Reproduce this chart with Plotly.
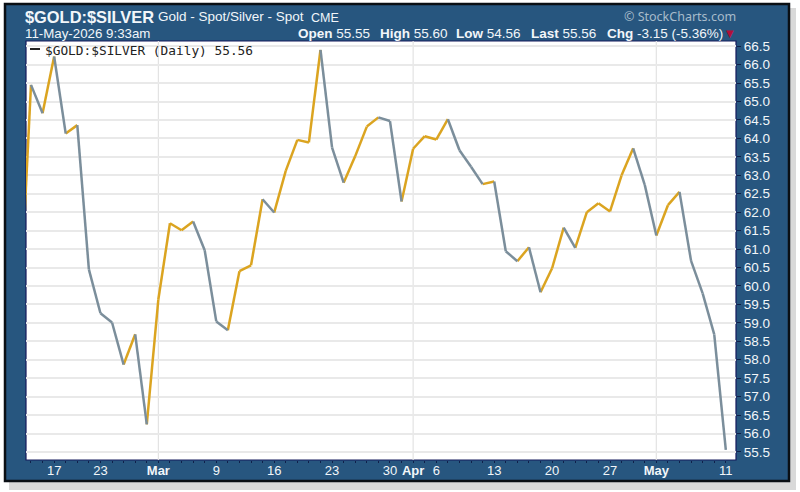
import plotly.graph_objects as go

dates = ["Feb 11", "Feb 12", "Feb 13", "Feb 17", "Feb 18", "Feb 19", "Feb 20", "Feb 23", "Feb 24", "Feb 25",
         "Feb 26", "Feb 27", "Mar 2", "Mar 3", "Mar 4", "Mar 5", "Mar 6", "Mar 9", "Mar 10", "Mar 11",
         "Mar 12", "Mar 13", "Mar 16", "Mar 17", "Mar 18", "Mar 19", "Mar 20", "Mar 23", "Mar 24", "Mar 25",
         "Mar 26", "Mar 27", "Mar 30", "Mar 31", "Apr 1", "Apr 2", "Apr 6", "Apr 7", "Apr 8", "Apr 9",
         "Apr 10", "Apr 13", "Apr 14", "Apr 15", "Apr 16", "Apr 17", "Apr 20", "Apr 21", "Apr 22", "Apr 23",
         "Apr 24", "Apr 27", "Apr 28", "Apr 29", "Apr 30", "May 1", "May 4", "May 5", "May 6", "May 7",
         "May 8", "May 11"]
ratio = [59.07, 65.45, 64.68, 66.22, 64.13, 64.36, 60.45, 59.26, 59.01, 57.87,
         58.69, 56.25, 59.64, 61.70, 61.51, 61.75, 60.97, 59.04, 58.80, 60.40,
         60.56, 62.35, 61.99, 63.12, 63.96, 63.89, 66.40, 63.75, 62.80, 63.52,
         64.32, 64.57, 64.47, 62.29, 63.72, 64.06, 63.97, 64.52, 63.68, 63.23,
         62.76, 62.83, 60.94, 60.67, 61.05, 59.83, 60.48, 61.58, 61.03, 62.00,
         62.24, 62.02, 63.00, 63.73, 62.74, 61.37, 62.19, 62.55, 60.68, 59.80,
         58.69, 55.56]
# these days are drawn gold in the chart although the ratio slipped
gold_days = ["Mar 4", "Mar 19", "Apr 6", "Apr 27"]

month_starts = ["Mar 2", "Apr 1", "May 1"]
tick_labels = {"Feb 17": "17", "Feb 23": "23", "Mar 2": "<b>Mar</b>", "Mar 9": "9", "Mar 16": "16",
               "Mar 23": "23", "Mar 30": "30", "Apr 1": "<b>Apr</b>", "Apr 6": "6", "Apr 13": "13",
               "Apr 20": "20", "Apr 27": "27", "May 1": "<b>May</b>", "May 11": "11"}
y_ticks = [55.5 + 0.5 * i for i in range(23)]

BLUE = "#27567f"
GOLD = "#dba420"
GRAY = "#7b8e9b"
LIGHT = "#f2f6fa"

W, H = 800, 492
L, R, T, B = 26, 64, 41, 32
plot_w = W - L - R
plot_h = H - T - B


def px(x):
    return (x - L) / plot_w


def py(y):
    return 1 - (y - T) / plot_h


up_x, up_y, down_x, down_y = [], [], [], []
for i in range(1, len(dates)):
    if ratio[i] >= ratio[i - 1] or dates[i] in gold_days:
        up_x += [dates[i - 1], dates[i], None]
        up_y += [ratio[i - 1], ratio[i], None]
    else:
        down_x += [dates[i - 1], dates[i], None]
        down_y += [ratio[i - 1], ratio[i], None]

fig = go.Figure()
fig.add_trace(go.Scatter(x=up_x, y=up_y, mode="lines", name="up", line=dict(color=GOLD, width=2.5)))
fig.add_trace(go.Scatter(x=down_x, y=down_y, mode="lines", name="down", line=dict(color=GRAY, width=2.5)))

# soft shadow, frame and dark border behind the plot
fig.add_shape(type="rect", xref="paper", yref="paper", x0=px(9), x1=px(796), y0=py(490), y1=py(8),
              fillcolor="#d9d9d9", line_width=0, layer="below")
fig.add_shape(type="rect", xref="paper", yref="paper", x0=px(5), x1=px(789), y0=py(481), y1=py(4),
              fillcolor=BLUE, line=dict(color="#0a0f14", width=2.5), layer="below")
fig.add_shape(type="rect", xref="paper", yref="paper", x0=0, x1=1, y0=0, y1=1,
              fillcolor="white", line=dict(color="#141a5c", width=1.2), layer="below")

for m in month_starts:
    fig.add_shape(type="line", xref="x", yref="paper", x0=m, x1=m, y0=0, y1=1,
                  line=dict(color="#e3e3e3", width=1.2), layer="below")

# legend dash inside the plot
fig.add_shape(type="line", xref="paper", yref="paper", x0=px(30), x1=px(40), y0=py(49), y1=py(49),
              line=dict(color="#222222", width=2))


def label(x, y, text, size, color=LIGHT, family="Liberation Sans", anchor="left"):
    fig.add_annotation(xref="paper", yref="paper", x=px(x), y=py(y), text=text, showarrow=False,
                       xanchor=anchor, yanchor="middle", borderpad=0, borderwidth=0,
                       font=dict(size=size, color=color, family=family))


label(25, 17, "<b>$GOLD:$SILVER</b>", 16.4)
label(158, 17, "Gold - Spot/Silver - Spot", 13.5)
label(311, 18, "CME", 12.5)
label(25, 34, "11-May-2026 9:33am", 13.3)
label(736, 17, "© StockCharts.com", 12.5, color="#a8bccb", family="Noto Sans", anchor="right")
label(298, 34, "<b>Open</b> 55.55", 13.5)
label(380, 34, "<b>High</b> 55.60", 13.5)
label(456, 34, "<b>Low</b> 54.56", 13.5)
label(531, 34, "<b>Last</b> 55.56", 13.5)
label(607, 34, "<b>Chg</b> -3.15 (-5.36%)", 13.5)
label(726, 34, "▼", 10, color="#b0103a", family="DejaVu Sans")
label(45, 50, "$GOLD:$SILVER (Daily) 55.56", 12.8, color="#222222", family="DejaVu Sans Mono")

fig.update_layout(
    width=W,
    height=H,
    autosize=False,
    margin=dict(l=L, r=R, t=T, b=B, pad=0),
    paper_bgcolor="white",
    plot_bgcolor="white",
    showlegend=False,
    font=dict(family="Liberation Sans", color=LIGHT),
)
fig.update_xaxes(
    type="category",
    categoryorder="array",
    categoryarray=dates,
    range=[0.57, 61.88],
    tickmode="array",
    tickvals=dates,
    ticktext=[tick_labels.get(d, "") for d in dates],
    ticks="outside",
    ticklen=2,
    tickwidth=1,
    tickcolor="#10204a",
    tickangle=0,
    ticklabelstandoff=-4,
    tickfont=dict(size=13, color=LIGHT),
    showgrid=False,
    zeroline=False,
    showline=False,
)
fig.update_yaxes(
    side="right",
    range=[55.283, 66.64],
    tickmode="array",
    tickvals=y_ticks,
    ticktext=[f"{v:.1f}" for v in y_ticks],
    ticks="outside",
    ticklen=4,
    tickwidth=1,
    tickcolor="#10204a",
    tickfont=dict(size=13.5, color=LIGHT),
    gridcolor="#e9e9e9",
    gridwidth=1.5,
    zeroline=False,
    showline=False,
)

# the page's default body margin would push the chart off the window
fig.write_html("out.html", config={"displayModeBar": False},
               post_script="document.body.style.margin='0';document.body.style.overflow='hidden';")
